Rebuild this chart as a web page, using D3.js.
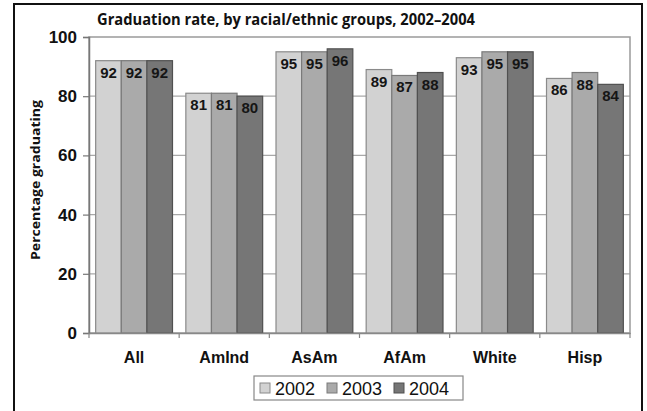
<!DOCTYPE html>
<html>
<head>
<meta charset="utf-8">
<script src="https://cdn.jsdelivr.net/npm/d3@7"></script>
<style>
  html, body { margin: 0; padding: 0; background: #fff; }
  svg { display: block; }
</style>
</head>
<body>
<svg id="chart" width="647" height="411"></svg>
<script>
// Graduation rate by racial/ethnic group, 2002–2004
const categories = ["All", "AmInd", "AsAm", "AfAm", "White", "Hisp"];
const years = ["2002", "2003", "2004"];
const rate2002 = [92, 81, 95, 89, 93, 86];
const rate2003 = [92, 81, 95, 87, 95, 88];
const rate2004 = [92, 80, 96, 88, 95, 84];
const yTicks = [0, 20, 40, 60, 80, 100];

const seriesValues = [rate2002, rate2003, rate2004];
const fills = ["#d2d2d2", "#aaaaaa", "#767676"];
const strokes = ["#8a8a8a", "#7a7a7a", "#505050"];

const svg = d3.select("#chart");
const plot = { left: 89, right: 630, top: 37, bottom: 333 };

// outer frame
svg.append("rect").attr("x", 14).attr("y", 4).attr("width", 628).attr("height", 420)
  .attr("fill", "#fff").attr("stroke", "#111").attr("stroke-width", 2);

const x0 = d3.scaleBand().domain(categories)
  .range([plot.left, plot.right]).paddingInner(0.148).paddingOuter(0.074);
const x1 = d3.scaleBand().domain(years).range([0, x0.bandwidth()]);
const y = d3.scaleLinear().domain([0, 100]).range([plot.bottom, plot.top]);

// gridlines
svg.append("g").selectAll("line").data(yTicks.filter(t => t > 0 && t < 100)).join("line")
  .attr("x1", plot.left).attr("x2", plot.right)
  .attr("y1", d => y(d)).attr("y2", d => y(d))
  .attr("stroke", "#a8a8a8").attr("stroke-width", 1.2);

// plot frame
svg.append("rect").attr("x", plot.left).attr("y", plot.top)
  .attr("width", plot.right - plot.left).attr("height", plot.bottom - plot.top)
  .attr("fill", "none").attr("stroke", "#9a9a9a").attr("stroke-width", 1.5);

// bars
const rows = categories.map((c, i) => ({ cat: c, vals: years.map((yr, j) => ({ yr, j, v: seriesValues[j][i] })) }));
const groups = svg.append("g").selectAll("g").data(rows).join("g")
  .attr("transform", d => `translate(${x0(d.cat)},0)`);
groups.selectAll("rect").data(d => d.vals).join("rect")
  .attr("x", d => x1(d.yr)).attr("width", x1.bandwidth())
  .attr("y", d => y(d.v)).attr("height", d => y(0) - y(d.v))
  .attr("fill", d => fills[d.j]).attr("stroke", d => strokes[d.j]).attr("stroke-width", 1.2);
groups.selectAll("text").data(d => d.vals).join("text")
  .attr("x", d => x1(d.yr) + x1.bandwidth() / 2)
  .attr("y", d => y(d.v) + 17)
  .attr("text-anchor", "middle")
  .attr("font-family", "Liberation Sans, Arial, sans-serif")
  .attr("font-size", 15).attr("font-weight", "bold").attr("fill", "#151515")
  .text(d => d.v);

// y axis
const yAxis = d3.axisLeft(y).tickValues(yTicks).tickSize(6).tickPadding(6);
const gy = svg.append("g").attr("transform", `translate(${plot.left},0)`).call(yAxis);
gy.select(".domain").attr("stroke", "#777").attr("stroke-width", 1.5);
gy.selectAll(".tick line").attr("stroke", "#777").attr("stroke-width", 1.2);
gy.selectAll(".tick text").attr("font-family", "Liberation Sans, Arial, sans-serif")
  .attr("font-size", 17).attr("font-weight", "bold").attr("fill", "#111");

// x axis
const xAxis = d3.axisBottom(x0).tickSize(0).tickPadding(19);
const gx = svg.append("g").attr("transform", `translate(0,${plot.bottom})`).call(xAxis);
gx.select(".domain").attr("stroke", "#888").attr("stroke-width", 1.5);
gx.selectAll(".tick text").attr("font-family", "Liberation Sans, Arial, sans-serif")
  .attr("font-size", 16).attr("font-weight", "bold").attr("fill", "#111");
// separators between category groups
const seps = d3.range(categories.length + 1).map(i => plot.left + i * x0.step());
svg.append("g").selectAll("line").data(seps).join("line")
  .attr("x1", d => d).attr("x2", d => d)
  .attr("y1", plot.bottom).attr("y2", plot.bottom + 5)
  .attr("stroke", "#888").attr("stroke-width", 1.2);

// title
svg.append("text").attr("x", 286).attr("y", 25).attr("text-anchor", "middle")
  .attr("font-family", "Open Sans, sans-serif").attr("font-weight", 700)
  .attr("font-size", 16.5).attr("fill", "#111")
  .attr("textLength", 378).attr("lengthAdjust", "spacingAndGlyphs")
  .text("Graduation rate, by racial/ethnic groups, 2002–2004");

// y axis title
svg.append("text")
  .attr("transform", "translate(40,180) rotate(-90)")
  .attr("text-anchor", "middle")
  .attr("font-family", "Open Sans, sans-serif").attr("font-weight", 700)
  .attr("font-size", 13).attr("fill", "#111")
  .attr("textLength", 160).attr("lengthAdjust", "spacingAndGlyphs")
  .text("Percentage graduating");

// legend
const legend = svg.append("g");
legend.append("rect").attr("x", 254).attr("y", 376).attr("width", 209).attr("height", 24)
  .attr("fill", "#fff").attr("stroke", "#888").attr("stroke-width", 1.2);
const items = legend.selectAll("g").data(years).join("g")
  .attr("transform", (d, i) => `translate(${260 + i * 67},0)`);
items.append("rect").attr("x", 0).attr("y", 383).attr("width", 10).attr("height", 10)
  .attr("fill", (d, i) => fills[i]).attr("stroke", (d, i) => strokes[i]).attr("stroke-width", 1);
items.append("text").attr("x", 15).attr("y", 395)
  .attr("font-family", "Liberation Sans, Arial, sans-serif").attr("font-size", 18)
  .attr("fill", "#111").text(d => d);
</script>
</body>
</html>
